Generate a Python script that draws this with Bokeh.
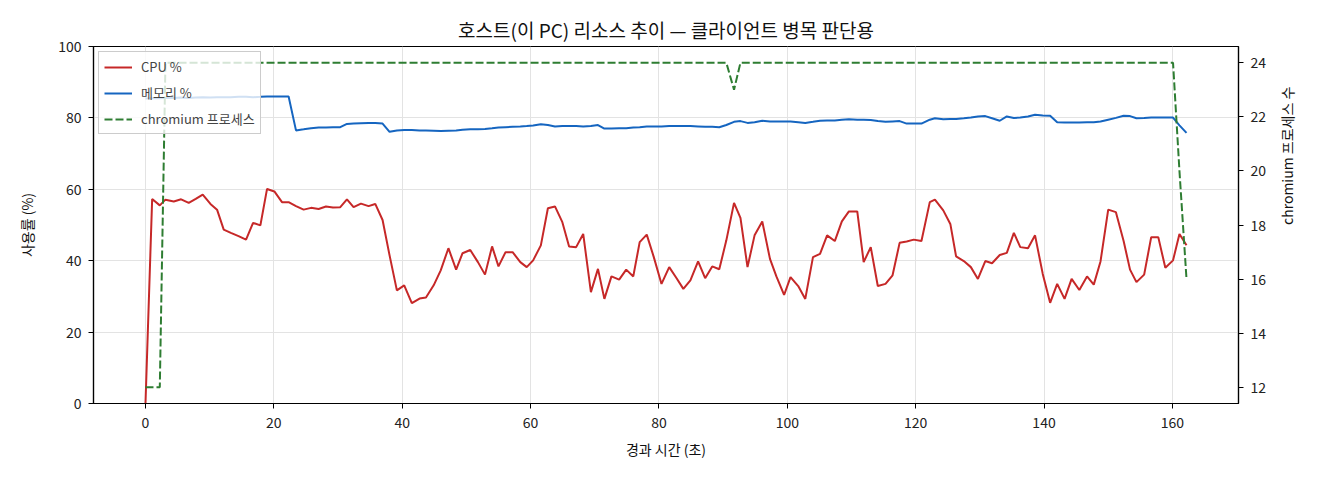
import math
from bokeh.plotting import figure
from bokeh.models import Range1d, LinearAxis, FixedTicker, Legend, LegendItem
from bokeh.embed import file_html
from bokeh.resources import INLINE

FONT = "Noto Sans CJK KR"

# elapsed seconds of each sample
t = [0, 1.04, 2.23, 3.11, 4.41, 5.55, 6.74, 7.83, 8.92, 10.12, 11.15, 12.19, 13.3, 14.5,
     15.67, 16.76, 17.9, 18.94, 20.08, 21.27, 22.3, 23.45, 24.64, 25.79, 26.98, 28.12,
     29.21, 30.35, 31.39, 32.42, 33.57, 34.76, 35.8, 36.94, 38.03, 39.17, 40.31, 41.5,
     42.7, 43.7, 44.9, 46.0, 47.2, 48.4, 49.4, 50.6, 51.8, 52.9, 54.0, 55.0, 56.1, 57.2,
     58.4, 59.4, 60.4, 61.6, 62.7, 63.8, 64.95, 66.0, 67.1, 68.2, 69.4, 70.5, 71.5, 72.6,
     73.8, 74.9, 76.0, 77.0, 78.1, 79.2, 80.4, 81.6, 82.75, 83.8, 84.9, 86.1, 87.2, 88.3,
     89.4, 90.5, 91.7, 92.7, 93.8, 94.9, 96.1, 97.3, 98.3, 99.5, 100.5, 101.7, 102.8,
     104.0, 105.1, 106.2, 107.4, 108.5, 109.6, 110.9, 111.9, 113.0, 114.1, 115.3, 116.4,
     117.5, 118.6, 119.7, 120.9, 122.2, 123.0, 124.3, 125.4, 126.3, 127.5, 128.6, 129.7,
     130.85, 131.9, 133.1, 134.2, 135.3, 136.3, 137.5, 138.6, 139.8, 140.95, 142.05,
     143.2, 144.3, 145.5, 146.7, 147.75, 148.8, 150.0, 151.2, 152.4, 153.4, 154.4, 155.6,
     156.7, 157.8, 158.9, 160.1, 161.1, 162.2]

cpu = [0, 57.3, 55.5, 57.1, 56.6, 57.2, 56.2, 57.3, 58.5, 55.9, 54.3, 48.7, 47.8, 46.9,
       45.9, 50.6, 49.9, 60.1, 59.4, 56.4, 56.4, 55.3, 54.3, 54.8, 54.5, 55.2,
       54.9, 55.0, 57.2, 55.0, 56.0, 55.3, 55.9, 51.4, 41.5, 31.7, 33.1, 28.1,
       29.4, 29.7, 33.1, 37.3, 43.5, 37.5, 42.1, 43.0, 39.6, 36.1, 44.0, 38.4, 42.4, 42.4,
       39.6, 38.2, 40.1, 44.3, 54.7, 55.2, 50.8, 44.0, 43.8, 47.5, 31.2, 37.7, 29.3, 35.6,
       34.7, 37.5, 35.6, 45.2, 47.3, 41.0, 33.5, 38.2, 35.1, 32.1, 34.5, 39.8, 35.1, 38.4,
       37.6, 45.7, 56.2, 52.0, 38.2, 47.1, 51.0, 40.5, 35.6, 30.4, 35.4, 32.9, 29.3,
       41.0, 41.9, 47.1, 45.5, 51.0, 53.8, 53.8, 39.6, 43.8, 32.9, 33.5, 35.9,
       45.0, 45.4, 45.9, 45.5, 56.4, 57.1, 54.1, 50.3, 41.2, 39.9, 38.2, 34.9,
       39.9, 39.3, 41.6, 42.2, 47.8, 43.8, 43.5, 47.1, 36.3, 28.2, 33.5,
       29.3, 34.9, 31.8, 35.6, 33.3, 39.8, 54.3, 53.6, 45.5, 37.5, 34.0, 36.1,
       46.6, 46.6, 38.0, 40.1, 47.5, 44.3]

mem = [85.4, 85.5, 85.5, 85.6, 85.6, 85.7, 85.6, 85.7, 85.8, 85.7, 85.8, 85.8, 85.8, 85.9,
       85.9, 85.8, 85.9, 86.0, 86.0, 86.0, 86.0, 76.5, 76.8, 77.1, 77.3, 77.3,
       77.4, 77.4, 78.3, 78.4, 78.5, 78.6, 78.6, 78.4, 76.1, 76.5, 76.6, 76.6,
       76.5, 76.5, 76.4, 76.3, 76.4, 76.5, 76.7, 76.8, 76.8, 76.9, 77.1, 77.3, 77.4, 77.5,
       77.6, 77.7, 77.9, 78.2, 78.0, 77.6, 77.7, 77.7, 77.7, 77.6, 77.7, 78.0, 77.0, 77.0,
       77.1, 77.1, 77.3, 77.4, 77.6, 77.6, 77.6, 77.7, 77.7, 77.7, 77.7, 77.6, 77.5, 77.5,
       77.4, 78.0, 78.9, 79.1, 78.6, 78.8, 79.2, 79.0, 79.0, 79.0, 79.0, 78.8, 78.6,
       78.9, 79.2, 79.3, 79.3, 79.5, 79.6, 79.5, 79.5, 79.4, 79.1, 78.9, 79.0,
       79.1, 78.4, 78.4, 78.4, 79.5, 79.9, 79.6, 79.7, 79.7, 79.9, 80.1, 80.4,
       80.5, 79.9, 79.2, 80.4, 80.0, 80.1, 80.4, 80.9, 80.7, 80.6, 78.8,
       78.7, 78.7, 78.7, 78.8, 78.8, 79.0, 79.5, 80.0, 80.6, 80.5, 79.9, 80.0,
       80.1, 80.1, 80.1, 80.1, 77.9, 75.8]

procs = [12, 12, 12] + [24] * 78 + [24, 23, 24] + [24] * 60 + [20, 16]

p = figure(width=1310, height=472, output_backend="svg", toolbar_location=None,
           x_range=Range1d(-8.1, 170.3), y_range=Range1d(0, 100),
           min_border_left=93, min_border_right=70, min_border_top=46, min_border_bottom=69)
p.extra_y_ranges = {"procs": Range1d(11.4, 24.6)}

p.title.text = "호스트(이 PC) 리소스 추이 — 클라이언트 병목 판단용"
p.title.align = "center"
p.title.text_font = FONT
p.title.text_font_size = "19px"
p.title.text_font_style = "normal"
p.title.text_color = "#111111"
p.title.offset = 0
p.title.standoff = 8

r_cpu = p.line(t, cpu, line_color="#c62828", line_width=2)
r_mem = p.line(t, mem, line_color="#1565c0", line_width=2)
r_proc = p.line(t, procs, line_color="#2e7d32", line_width=2, line_dash="8 3",
                y_range_name="procs")

right = LinearAxis(y_range_name="procs", axis_label="chromium 프로세스 수")
p.add_layout(right, "right")

p.xaxis.ticker = FixedTicker(ticks=[0, 20, 40, 60, 80, 100, 120, 140, 160])
p.yaxis[0].ticker = FixedTicker(ticks=[0, 20, 40, 60, 80, 100])
right.ticker = FixedTicker(ticks=[12, 14, 16, 18, 20, 22, 24])
p.xaxis.axis_label = "경과 시간 (초)"
p.yaxis[0].axis_label = "사용률 (%)"

for ax in p.xaxis + p.yaxis:
    ax.major_label_text_font = FONT
    ax.major_label_text_font_size = "14px"
    ax.major_label_text_color = "#222222"
    ax.axis_label_text_font = FONT
    ax.axis_label_text_font_size = "14px"
    ax.axis_label_text_font_style = "normal"
    ax.axis_label_text_color = "#111111"
    ax.minor_tick_line_color = None
    ax.major_tick_in = 0
    ax.major_tick_out = 5
    ax.major_tick_line_color = "black"
    ax.axis_line_color = "black"
    ax.axis_line_width = 1.2
    ax.major_label_standoff = 7

p.xaxis.major_label_standoff = 8
p.xaxis.axis_label_standoff = 8
p.yaxis[0].axis_label_standoff = 18
right.axis_label_standoff = 18
if "axis_label_orientation" in right.properties():
    right.axis_label_orientation = math.pi / 2

p.outline_line_color = "black"
p.outline_line_width = 1.2
p.xgrid.grid_line_color = "#e3e3e3"
p.ygrid.grid_line_color = "#e3e3e3"
p.xgrid.ticker = p.xaxis[0].ticker
p.ygrid.ticker = p.yaxis[0].ticker

legend = Legend(items=[LegendItem(label="CPU %", renderers=[r_cpu]),
                       LegendItem(label="메모리 %", renderers=[r_mem]),
                       LegendItem(label="chromium 프로세스", renderers=[r_proc])],
                location="top_left")
legend.label_text_font = FONT
legend.label_text_font_size = "13px"
legend.glyph_width = 28
legend.glyph_height = 16
legend.label_height = 16
legend.label_standoff = 9
legend.spacing = 7
legend.padding = 5
legend.margin = 5
legend.border_line_color = "#cccccc"
legend.border_line_alpha = 1
legend.background_fill_alpha = 0.8
p.add_layout(legend)

open("out.html", "w").write(file_html(p, INLINE))
